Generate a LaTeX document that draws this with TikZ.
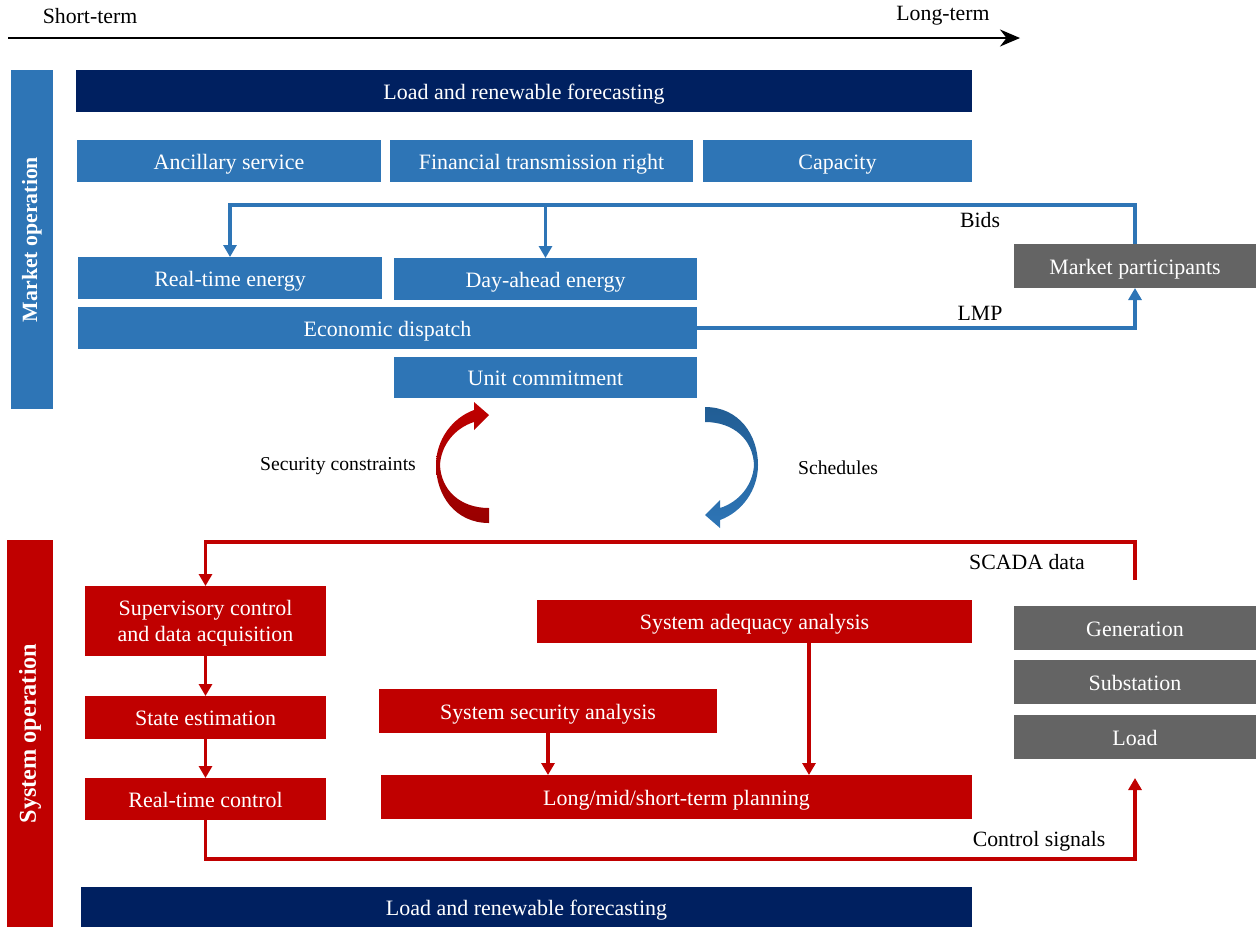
\documentclass[tikz,border=0pt]{standalone}
\usepackage{fontspec}
\setmainfont{Liberation Serif}
\usetikzlibrary{arrows.meta}
\definecolor{navy}{HTML}{002060}
\definecolor{mblue}{HTML}{2E75B6}
\definecolor{dblue}{HTML}{215D94}
\definecolor{sred}{HTML}{C00000}
\definecolor{dred}{HTML}{980000}
\definecolor{pgray}{HTML}{646464}
\begin{document}
\begin{tikzpicture}[
  x=0.02cm, y=-0.02cm,
  >={Triangle[length=0.24cm,width=0.26cm]},
  box/.style={inner sep=0pt, outer sep=0pt, text=white, minimum height=0.84cm,
    text height=11.9pt, text depth=2.7pt,
    font=\fontsize{12.5}{14.8}\selectfont, align=center},
  forecast/.style={box, fill=navy},
  marketbox/.style={box, fill=mblue},
  systembox/.style={box, fill=sred},
  actorbox/.style={box, fill=pgray, minimum width=4.84cm, minimum height=0.88cm},
  sidebar/.style={inner sep=0pt, outer sep=0pt, text=white, rotate=90},
  marketflow/.style={mblue, line width=1.8pt},
  systemflow/.style={sred, line width=1.8pt},
  flowlabel/.style={font=\fontsize{12.4}{15}\selectfont},
  looplabel/.style={font=\fontsize{11.2}{13}\selectfont}
]
  \useasboundingbox (0,0) rectangle (1256,927);

  % Time axis, short-term on the left and long-term on the right
  \coordinate (tstart) at (8,38);
  \coordinate (tend) at (1020,38);
  \draw[line width=1.1pt, -{Stealth[length=0.4cm,width=0.34cm]}] (tstart) -- (tend);
  \node[flowlabel] (short) at (90,16) {Short-term};
  \node[flowlabel] (long) at (943,16) {Long-term};

  % Market operation block
  \node[sidebar, fill=mblue, minimum width=6.78cm, minimum height=0.84cm,
    font=\bfseries\fontsize{12.4}{15}\selectfont] (market) at (32,239.5) {Market operation};
  \node[forecast, minimum width=17.92cm] (fctop) at (524,91) {Load and renewable forecasting};
  \node[marketbox, minimum width=6.08cm] (anc) at (229,161) {Ancillary service};
  \node[marketbox, minimum width=6.06cm] (ftr) at (541.5,161) {Financial transmission right};
  \node[marketbox, minimum width=5.38cm] (cap) at (837.5,161) {Capacity};
  \node[marketbox, minimum width=6.08cm] (rte) at (230,278) {Real-time energy};
  \node[marketbox, minimum width=6.06cm] (dae) at (545.5,279) {Day-ahead energy};
  \node[marketbox, minimum width=12.38cm] (ed) at (387.5,328) {Economic dispatch};
  \node[marketbox, minimum width=6.06cm, minimum height=0.82cm] (uc) at (545.5,377.5) {Unit commitment};
  \node[actorbox] (mp) at (1135,266) {Market participants};

  % Bids go down to the energy markets, LMP comes back
  \coordinate (bidsline) at (1135,205);
  \draw[marketflow, ->] (mp.north) -- (mp.north |- bidsline) -- (rte.north |- bidsline) -- (rte.north);
  \draw[marketflow, ->] (dae.north |- bidsline) -- (dae.north);
  \draw[marketflow, ->] (ed.east) -| (mp.south);
  \node[flowlabel] (bids) at (980,220) {Bids};
  \node[flowlabel] (lmp) at (980,313) {LMP};

  % Loop between the two blocks
  % Red arrow: tail at the bottom, head pointing back up at unit commitment
  \shade[top color=sred, bottom color=dred] (489,523)
    .. controls (455,523) and (436,495) .. (436,465)
    .. controls (436,440) and (452,418) .. (474,410)
    -- (474,402) -- (489,415) -- (474,430) -- (474,422)
    .. controls (455,428) and (441,445) .. (440,465)
    .. controls (441,490) and (460,508) .. (489,508) -- cycle;
  % Blue arrow: same shape turned half a turn
  \shade[top color=dblue, bottom color=mblue] (705,407)
    .. controls (739,407) and (758,435) .. (758,465)
    .. controls (758,490) and (742,512) .. (720,520)
    -- (720,528) -- (705,515) -- (720,500) -- (720,508)
    .. controls (739,502) and (753,485) .. (754,465)
    .. controls (753,440) and (734,422) .. (705,422) -- cycle;
  \node[looplabel] (seclabel) at (338,466) {Security constraints};
  \node[looplabel] (schedlabel) at (838,468) {Schedules};

  % System operation block
  \node[sidebar, fill=sred, minimum width=7.74cm, minimum height=0.92cm,
    font=\bfseries\fontsize{13.8}{16}\selectfont] (system) at (30,733.5) {System operation};
  \node[systembox, minimum width=4.82cm, minimum height=1.4cm, text height=25.5pt] (scada) at (205.5,621) {Supervisory control\\and data acquisition};
  \node[systembox, minimum width=4.82cm, minimum height=0.86cm] (se) at (205.5,717.5) {State estimation};
  \node[systembox, minimum width=4.82cm] (rtc) at (205.5,799) {Real-time control};
  \node[systembox, minimum width=8.7cm, minimum height=0.86cm] (saa) at (754.5,621.5) {System adequacy analysis};
  \node[systembox, minimum width=6.76cm, minimum height=0.88cm] (ssa) at (548,711) {System security analysis};
  \node[systembox, minimum width=11.82cm, minimum height=0.88cm] (plan) at (676.5,797) {Long/mid/short-term planning};
  \node[actorbox] (gen) at (1135,628) {Generation};
  \node[actorbox] (sub) at (1135,682) {Substation};
  \node[actorbox] (load) at (1135,737) {Load};
  \node[forecast, minimum width=17.82cm, minimum height=0.8cm] (fcbot) at (526.5,907) {Load and renewable forecasting};

  % SCADA data in, control signals out
  \coordinate (scadaline) at (1134,542);
  \draw[systemflow, ->, shorten <=0.52cm] (gen.north) -- (gen.north |- scadaline) -- (scada.north |- scadaline) -- (scada.north);
  \draw[systemflow, ->] (scada) -- (se);
  \draw[systemflow, ->] (se) -- (rtc);
  \draw[systemflow, ->] (ssa) -- (ssa.south |- plan.north);
  \draw[systemflow, ->] ([xshift=1.09cm]saa.south) -- ([xshift=1.09cm]saa.south |- plan.north);
  \coordinate (ctrlline) at (1134,859);
  \draw[systemflow, ->, shorten >=0.38cm] (rtc.south) -- (rtc.south |- ctrlline) -- (load.south |- ctrlline) -- (load.south);
  \node[flowlabel] (scadalabel) at (1027,562) {SCADA data};
  \node[flowlabel] (ctrllabel) at (1039,841) {Control signals};

\end{tikzpicture}
\end{document}
